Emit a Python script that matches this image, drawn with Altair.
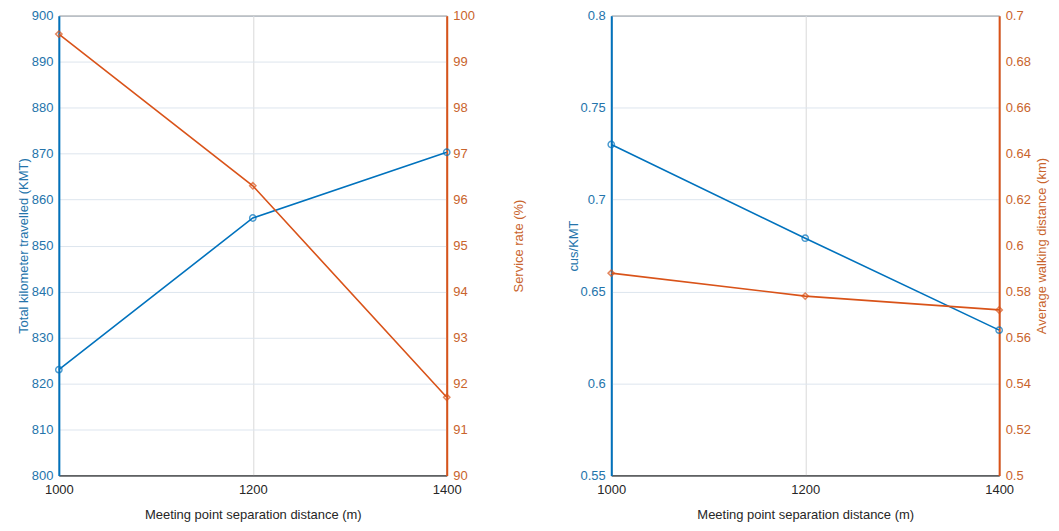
import altair as alt
import pandas as pd

distance = [1000, 1200, 1400]
kmt = [823.0, 856.0, 870.3]
service_rate = [99.6, 96.3, 91.7]
cus_per_kmt = [0.730, 0.679, 0.629]
walk_dist = [0.588, 0.578, 0.572]

BLUE = "#0072BD"
ORANGE = "#D95319"
BLUE_TXT = "#2474ab"
ORANGE_TXT = "#c9642c"
DARK = "#262626"
GRID = "#dde5ee"

df = pd.DataFrame({
    "x": distance,
    "kmt": kmt,
    "service": service_rate,
    "cus": cus_per_kmt,
    "walk": walk_dist,
})

W, H = 389, 461

xaxis = alt.Axis(values=distance, format="d", grid=True, gridColor="#d9d9d9",
                 domainColor=DARK, ticks=False, labelColor=DARK, titleColor=DARK,
                 labelFontSize=13, titleFontSize=13, titleFontWeight="normal",
                 titlePadding=12, labelPadding=8, labelFlush=False)
xenc = alt.X("x:Q", scale=alt.Scale(domain=[1000, 1400], nice=False, zero=False),
             axis=xaxis, title="Meeting point separation distance (m)")


def yaxis(color, txt, orient, values, title, grid, tpad):
    kw = {}
    if orient == "right":
        kw = dict(titleAngle=270, titleBaseline="top")
    return alt.Axis(orient=orient, values=values, format="~r", grid=grid, gridColor=GRID,
                    domainColor=color, domainWidth=2, ticks=False, labelColor=txt,
                    titleColor=txt, labelFontSize=13, titleFontSize=13,
                    titleFontWeight="normal", title=title, labelPadding=6,
                    titlePadding=tpad, **kw)


def series(field, color, txt, shape, dom, orient, values, title, grid, tpad):
    base = alt.Chart(df).encode(
        x=xenc,
        y=alt.Y(f"{field}:Q", scale=alt.Scale(domain=dom, nice=False, zero=False),
                axis=yaxis(color, txt, orient, values, title, grid, tpad)),
    )
    line = base.mark_line(color=color, strokeWidth=1.6)
    pts = base.mark_point(color=color, shape=shape, filled=False, size=40, strokeWidth=1.5)
    return line + pts


left = alt.layer(
    series("kmt", BLUE, BLUE_TXT, "circle", [800, 900], "left", list(range(800, 901, 10)),
           "Total kilometer travelled (KMT)", True, 1),
    series("service", ORANGE, ORANGE_TXT, "diamond", [90, 100], "right",
           list(range(90, 101, 1)), "Service rate (%)", False, 38),
).resolve_scale(y="independent").properties(width=W, height=H)

right = alt.layer(
    series("cus", BLUE, BLUE_TXT, "circle", [0.55, 0.8], "left",
           [0.55, 0.6, 0.65, 0.7, 0.75, 0.8], "cus/KMT", True, 0),
    series("walk", ORANGE, ORANGE_TXT, "diamond", [0.5, 0.7], "right",
           [round(0.5 + 0.02 * i, 2) for i in range(11)],
           "Average walking distance (km)", False, 5),
).resolve_scale(y="independent").properties(width=W, height=H)

chart = alt.hconcat(left, right, spacing=40).properties(
    padding={"left": 8, "top": 0, "right": 2, "bottom": 2}
).configure(
    font="Liberation Sans"
).configure_view(stroke=DARK, strokeWidth=1)

chart.save("out.html", embed_options={"renderer": "svg", "actions": False})
